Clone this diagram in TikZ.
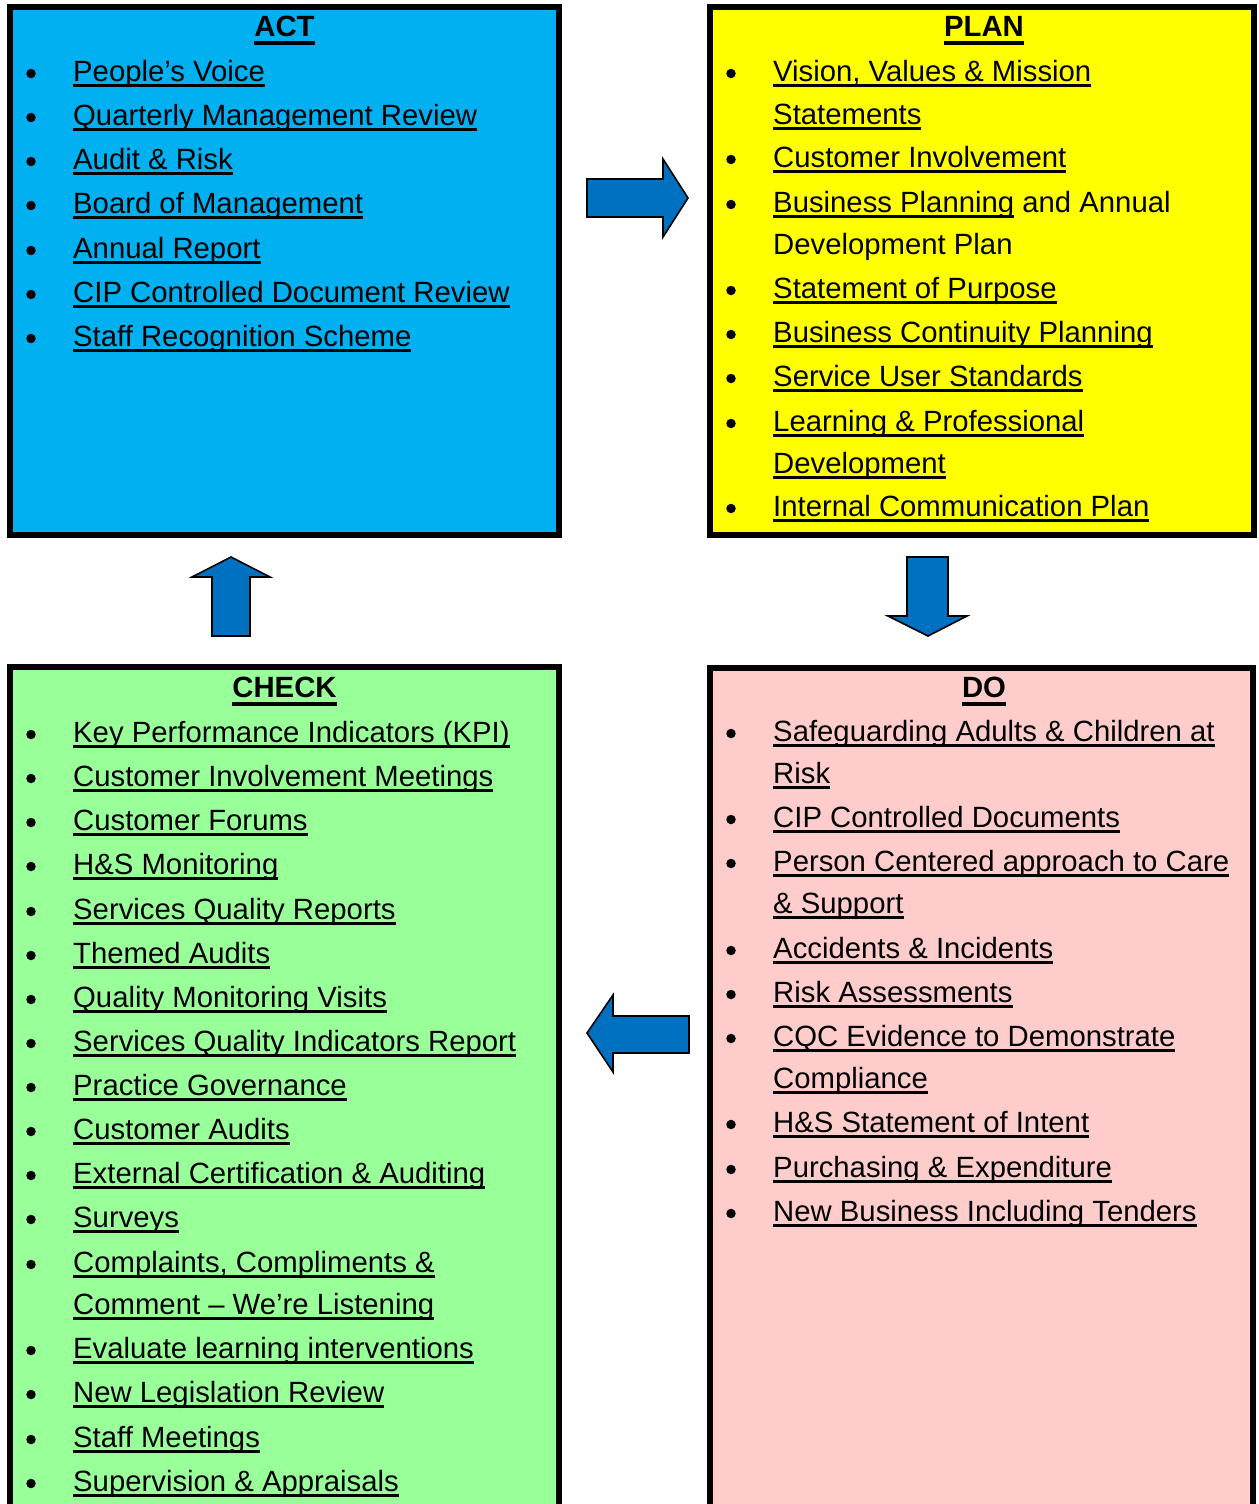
\documentclass[tikz,border=0pt]{standalone}
\usepackage{fontspec}
\setmainfont{Liberation Sans}
\definecolor{actblue}{HTML}{00B0F0}
\definecolor{planyellow}{HTML}{FFFF00}
\definecolor{checkgreen}{HTML}{99FF99}
\definecolor{dopink}{HTML}{FFCCCC}
\definecolor{arrowblue}{HTML}{0070C0}
\newsavebox\ulbox
\newcommand\UL[1]{\sbox\ulbox{#1}\rlap{\rule[-5.8pt]{\wd\ulbox}{3.4pt}}\usebox\ulbox}
\newcommand\ULT[1]{\sbox\ulbox{#1}\rlap{\rule[-8.3pt]{\wd\ulbox}{3.6pt}}\usebox\ulbox}
\tikzset{
  panel/.style={line width=6pt, draw=black, line join=miter},
  blockarrow/.style={fill=arrowblue, draw=black, line width=1.6pt, line join=miter},
  itemtext/.style={anchor=base west, inner sep=0pt, yshift=-1.5pt, font=\fontsize{29.3}{35}\selectfont},
  titletext/.style={anchor=base, inner sep=0pt, yshift=-1.5pt, font=\fontsize{29.3}{35}\selectfont\bfseries},
  bulletdot/.style={circle, fill=black, inner sep=0pt, yshift=-1.5pt, minimum size=9.5pt}
}
% name, x of bullet, x of text, baseline, text
\newcommand\Item[5]{%
  \node[bulletdot] (#1b) at (#2,#4-8) {};
  \node[itemtext] (#1) at (#3,#4) {#5};}
\newcommand\Wrap[4]{%
  \node[itemtext] (#1) at (#2,#3) {#4};}
\begin{document}
\begin{tikzpicture}[x=1pt,y=-1pt]
\useasboundingbox (0,0) rectangle (1258,1504);
\clip (0,0) rectangle (1258,1504);
% panels
\draw[panel, fill=actblue] (10,7) rectangle (559,535);
\draw[panel, fill=planyellow] (710,7) rectangle (1254,535);
\draw[panel, fill=checkgreen] (10,1530) -- (10,667) -- (559,667) -- (559,1530);
\draw[panel, fill=dopink] (710,1530) -- (710,668) -- (1253,668) -- (1253,1530);
% block arrows
\draw[blockarrow] (587,179) -- (663,179) -- (663,159) -- (688,198) -- (663,237) -- (663,217) -- (587,217) -- cycle;
\draw[blockarrow] (212,636) -- (212,577) -- (192,577) -- (231,557) -- (270,577) -- (250,577) -- (250,636) -- cycle;
\draw[blockarrow] (907,557) -- (948,557) -- (948,616) -- (967,616) -- (928,636) -- (888,616) -- (907,616) -- cycle;
\draw[blockarrow] (689,1016) -- (613,1016) -- (613,995) -- (587,1033) -- (613,1072) -- (613,1053) -- (689,1053) -- cycle;
% ACT
\node[titletext] (actT) at (284.5,35) {\ULT{ACT}};
\Item{a1}{31}{73}{80}{\UL{People’s Voice}}
\Item{a2}{31}{73}{124}{\UL{Quarterly Management Review}}
\Item{a3}{31}{73}{168}{\UL{Audit \& Risk}}
\Item{a4}{31}{73}{212}{\UL{Board of Management}}
\Item{a5}{31}{73}{257}{\UL{Annual Report}}
\Item{a6}{31}{73}{301}{\UL{CIP Controlled Document Review}}
\Item{a7}{31}{73}{345}{\UL{Staff Recognition Scheme}}
% PLAN
\node[titletext] (planT) at (984,35) {\ULT{PLAN}};
\Item{p1}{731}{773}{80}{\UL{Vision, Values \& Mission}}
\Wrap{p1w}{773}{123}{\UL{Statements}}
\Item{p2}{731}{773}{166}{\UL{Customer Involvement}}
\Item{p3}{731}{773}{211}{\UL{Business Planning} and Annual}
\Wrap{p3w}{773}{253}{Development Plan}
\Item{p4}{731}{773}{297}{\UL{Statement of Purpose}}
\Item{p5}{731}{773}{341}{\UL{Business Continuity Planning}}
\Item{p6}{731}{773}{385}{\UL{Service User Standards}}
\Item{p7}{731}{773}{430}{\UL{Learning \& Professional}}
\Wrap{p7w}{773}{472}{\UL{Development}}
\Item{p8}{731}{773}{515}{\UL{Internal Communication Plan}}
% CHECK
\node[titletext] (checkT) at (284.5,696) {\ULT{CHECK}};
\Item{c1}{31}{73}{741}{\UL{Key Performance Indicators (KPI)}}
\Item{c2}{31}{73}{785}{\UL{Customer Involvement Meetings}}
\Item{c3}{31}{73}{829}{\UL{Customer Forums}}
\Item{c4}{31}{73}{873}{\UL{H\&S Monitoring}}
\Item{c5}{31}{73}{918}{\UL{Services Quality Reports}}
\Item{c6}{31}{73}{962}{\UL{Themed Audits}}
\Item{c7}{31}{73}{1006}{\UL{Quality Monitoring Visits}}
\Item{c8}{31}{73}{1050}{\UL{Services Quality Indicators Report}}
\Item{c9}{31}{73}{1094}{\UL{Practice Governance}}
\Item{c10}{31}{73}{1138}{\UL{Customer Audits}}
\Item{c11}{31}{73}{1182}{\UL{External Certification \& Auditing}}
\Item{c12}{31}{73}{1226}{\UL{Surveys}}
\Item{c13}{31}{73}{1271}{\UL{Complaints, Compliments \&}}
\Wrap{c13w}{73}{1313}{\UL{Comment – We’re Listening}}
\Item{c14}{31}{73}{1357}{\UL{Evaluate learning interventions}}
\Item{c15}{31}{73}{1401}{\UL{New Legislation Review}}
\Item{c16}{31}{73}{1446}{\UL{Staff Meetings}}
\Item{c17}{31}{73}{1490}{\UL{Supervision \& Appraisals}}
% DO
\node[titletext] (doT) at (984,696) {\ULT{DO}};
\Item{d1}{731}{773}{740}{\UL{Safeguarding Adults \& Children at}}
\Wrap{d1w}{773}{782}{\UL{Risk}}
\Item{d2}{731}{773}{826}{\UL{CIP Controlled Documents}}
\Item{d3}{731}{773}{870}{\UL{Person Centered approach to Care}}
\Wrap{d3w}{773}{912}{\UL{\& Support}}
\Item{d4}{731}{773}{957}{\UL{Accidents \& Incidents}}
\Item{d5}{731}{773}{1001}{\UL{Risk Assessments}}
\Item{d6}{731}{773}{1045}{\UL{CQC Evidence to Demonstrate}}
\Wrap{d6w}{773}{1087}{\UL{Compliance}}
\Item{d7}{731}{773}{1131}{\UL{H\&S Statement of Intent}}
\Item{d8}{731}{773}{1176}{\UL{Purchasing \& Expenditure}}
\Item{d9}{731}{773}{1220}{\UL{New Business Including Tenders}}
\end{tikzpicture}
\end{document}
